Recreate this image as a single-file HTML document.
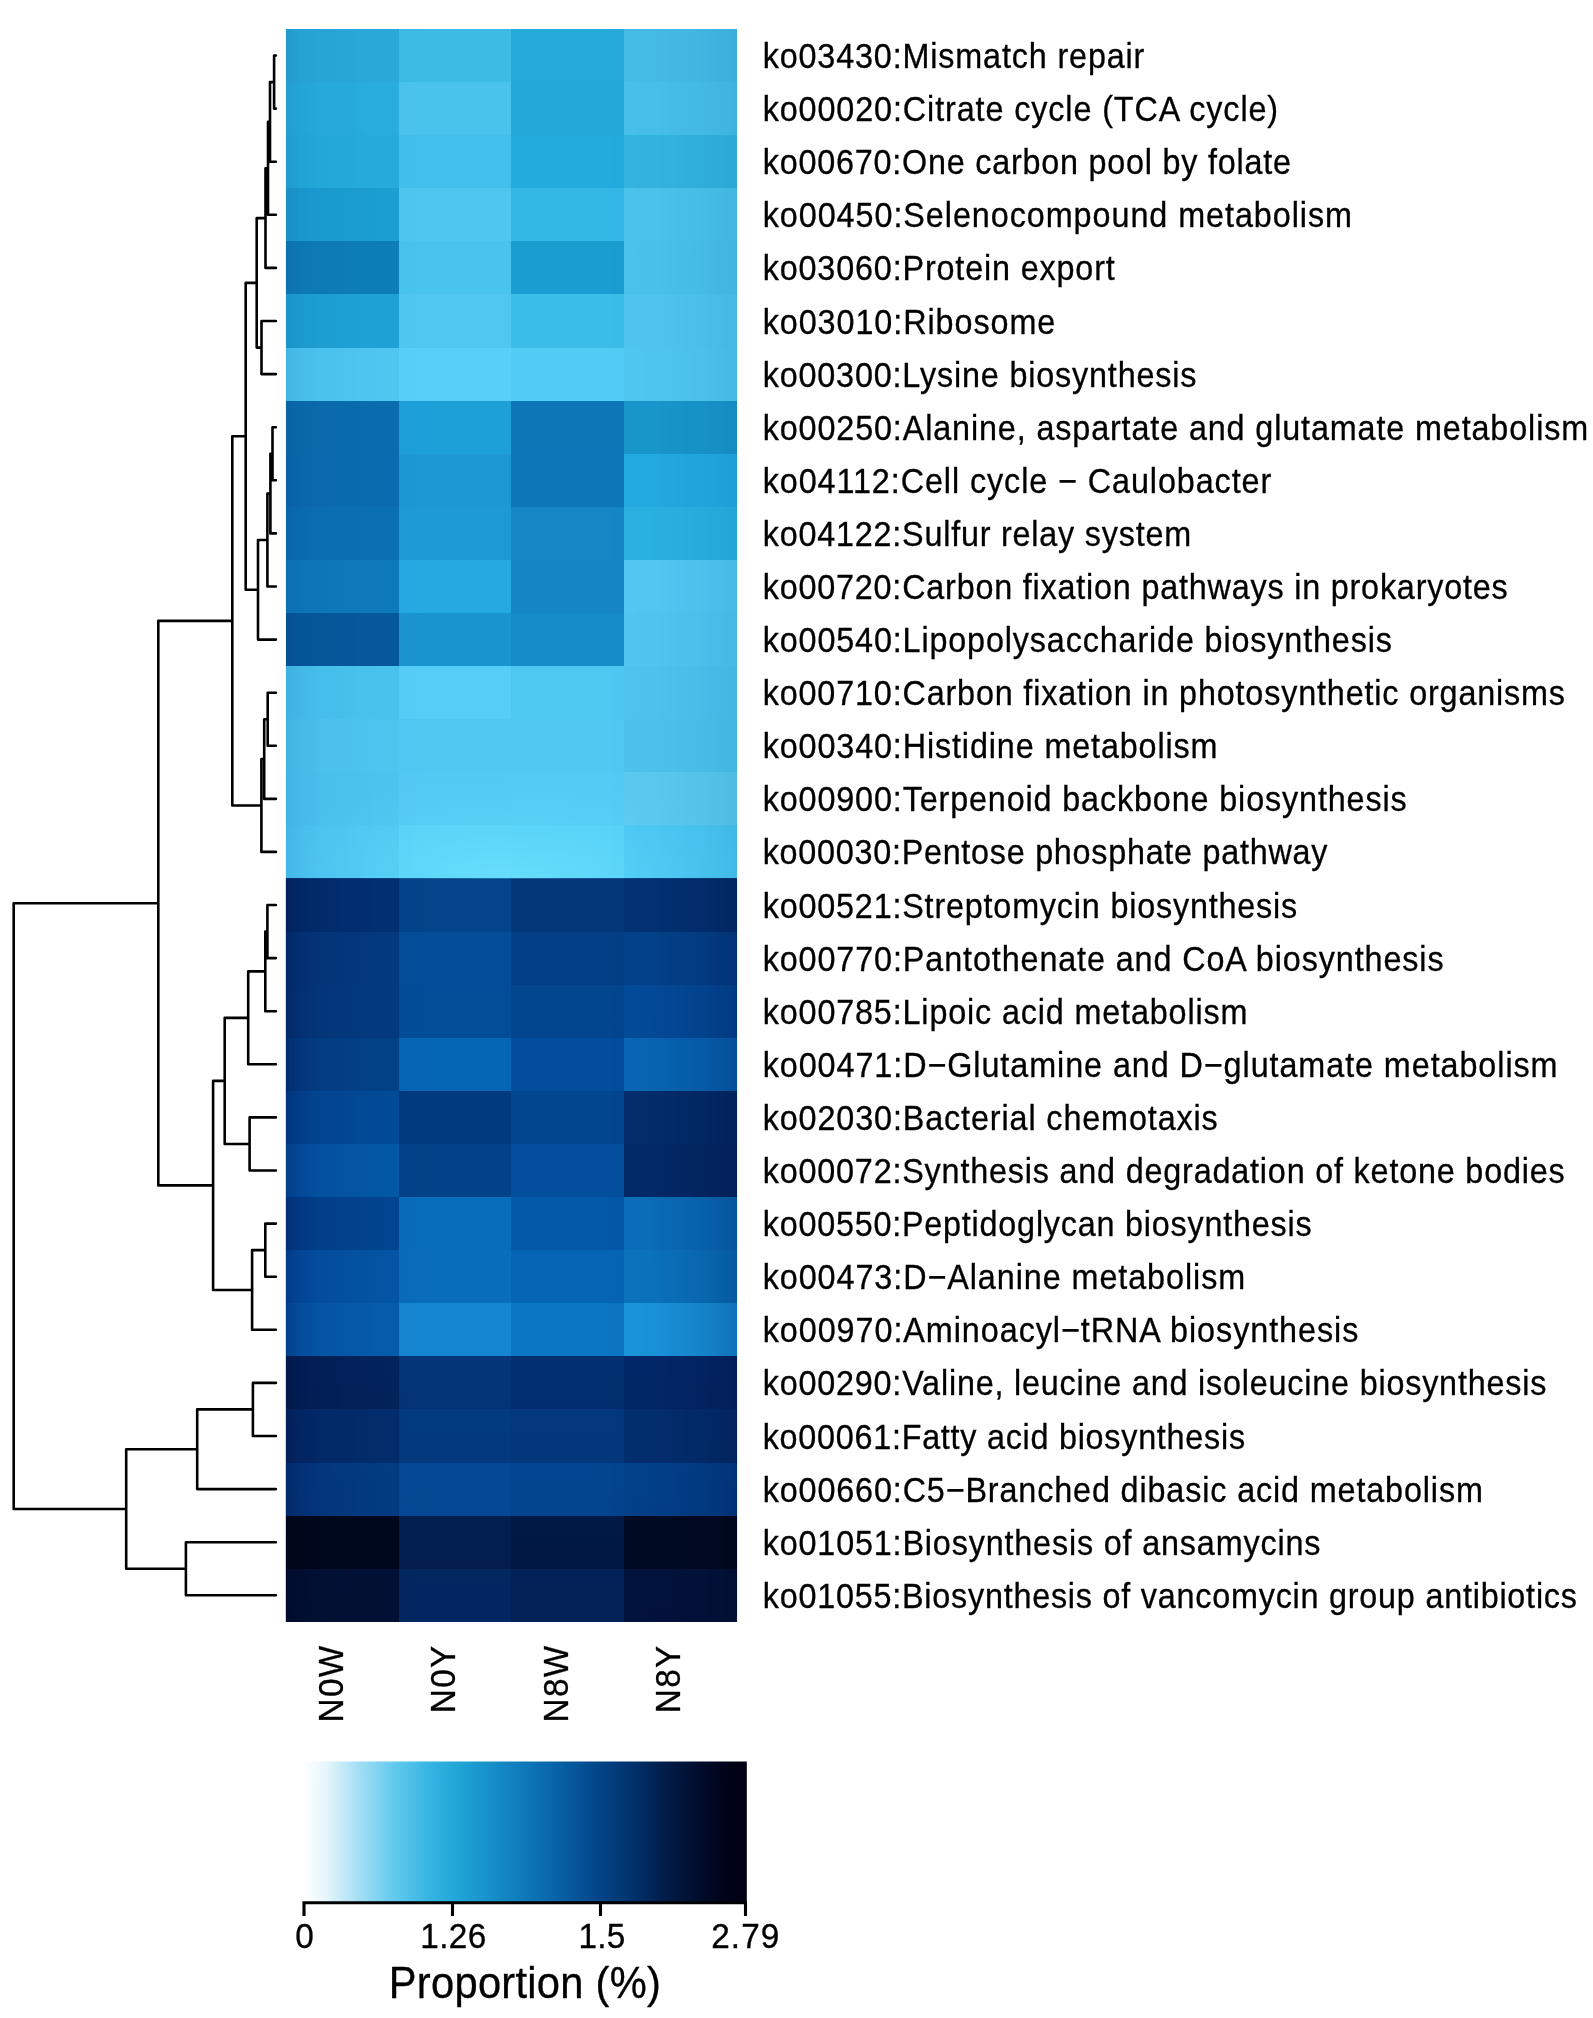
<!DOCTYPE html>
<html><head><meta charset="utf-8"><title>Heatmap</title>
<style>
html,body{margin:0;padding:0;background:#fff}
svg{display:block}
text{font-family:"Liberation Sans",Arial,sans-serif;fill:#000;stroke:#000;stroke-width:0.3px}
.rl{font-size:33.33px;letter-spacing:0.3px}
.cl{font-size:33.33px;letter-spacing:1.25px}
.tl{font-size:33.33px;letter-spacing:0.4px}
.ti{font-size:41.67px;letter-spacing:0.27px}
</style></head><body>
<svg width="1593" height="2018" viewBox="0 0 1593 2018">
<defs>
<linearGradient id="lg" x1="0" x2="1" y1="0" y2="0">
<stop offset="0" stop-color="#FFFFFF"/><stop offset="0.05" stop-color="#E4F5FC"/><stop offset="0.12" stop-color="#A6DFF5"/><stop offset="0.2" stop-color="#64CAEE"/><stop offset="0.28" stop-color="#37B6E3"/><stop offset="0.34" stop-color="#20A7D9"/><stop offset="0.42" stop-color="#1690C9"/><stop offset="0.5" stop-color="#0E78B8"/><stop offset="0.58" stop-color="#075FA4"/><stop offset="0.65" stop-color="#03498D"/><stop offset="0.72" stop-color="#023774"/><stop offset="0.8" stop-color="#012150"/><stop offset="0.88" stop-color="#000F30"/><stop offset="0.94" stop-color="#00051C"/><stop offset="1" stop-color="#000010"/>
</linearGradient>
<linearGradient id="hv" x1="0" x2="1" y1="0" y2="0"><stop offset="0" stop-color="#7EACD0"/><stop offset="0.03" stop-color="#A8CCE4"/><stop offset="0.08" stop-color="#D0E4F2"/><stop offset="0.2" stop-color="#F0F7FB"/><stop offset="0.33" stop-color="#FFFFFF"/><stop offset="0.7" stop-color="#FFFFFF"/><stop offset="0.82" stop-color="#E8F2F9"/><stop offset="0.92" stop-color="#BCDEEA"/><stop offset="1" stop-color="#8AC2D6"/></linearGradient>
<radialGradient id="glow" gradientUnits="userSpaceOnUse" cx="511" cy="885" r="260" gradientTransform="translate(511 885) scale(1 0.42) translate(-511 -885)"><stop offset="0" stop-color="#7AF0FF" stop-opacity="0.5"/><stop offset="0.5" stop-color="#70E8FF" stop-opacity="0.22"/><stop offset="1" stop-color="#66E0FF" stop-opacity="0"/></radialGradient>
<linearGradient id="bv" x1="0" x2="0" y1="0" y2="1"><stop offset="0" stop-color="#FFFFFF"/><stop offset="1" stop-color="#DCE4F0"/></linearGradient>
</defs>
<rect width="1593" height="2018" fill="#fff"/>
<g shape-rendering="crispEdges">
<rect x="285.60" y="29.00" width="113.20" height="53.39" fill="#29ABD9"/><rect x="398.50" y="29.00" width="113.20" height="53.39" fill="#3DBBE4"/><rect x="511.40" y="29.00" width="113.20" height="53.39" fill="#24AAD9"/><rect x="624.30" y="29.00" width="112.90" height="53.39" fill="#45BDE6"/>
<rect x="285.60" y="82.09" width="113.20" height="53.39" fill="#28AEDD"/><rect x="398.50" y="82.09" width="113.20" height="53.39" fill="#4AC3EC"/><rect x="511.40" y="82.09" width="113.20" height="53.39" fill="#22A9D9"/><rect x="624.30" y="82.09" width="112.90" height="53.39" fill="#48C1EA"/>
<rect x="285.60" y="135.19" width="113.20" height="53.39" fill="#25ACDC"/><rect x="398.50" y="135.19" width="113.20" height="53.39" fill="#42BFEA"/><rect x="511.40" y="135.19" width="113.20" height="53.39" fill="#23ABDD"/><rect x="624.30" y="135.19" width="112.90" height="53.39" fill="#33B5E0"/>
<rect x="285.60" y="188.28" width="113.20" height="53.39" fill="#1B9FD3"/><rect x="398.50" y="188.28" width="113.20" height="53.39" fill="#4EC6EF"/><rect x="511.40" y="188.28" width="113.20" height="53.39" fill="#33B8E6"/><rect x="624.30" y="188.28" width="112.90" height="53.39" fill="#4BC4EC"/>
<rect x="285.60" y="241.37" width="113.20" height="53.39" fill="#0D7EB9"/><rect x="398.50" y="241.37" width="113.20" height="53.39" fill="#48C4EE"/><rect x="511.40" y="241.37" width="113.20" height="53.39" fill="#1A9DD1"/><rect x="624.30" y="241.37" width="112.90" height="53.39" fill="#4AC3EB"/>
<rect x="285.60" y="294.47" width="113.20" height="53.39" fill="#1EA3D6"/><rect x="398.50" y="294.47" width="113.20" height="53.39" fill="#4FC7F0"/><rect x="511.40" y="294.47" width="113.20" height="53.39" fill="#3ABDE9"/><rect x="624.30" y="294.47" width="112.90" height="53.39" fill="#50C7EF"/>
<rect x="285.60" y="347.56" width="113.20" height="53.39" fill="#4FC8F1"/><rect x="398.50" y="347.56" width="113.20" height="53.39" fill="#58CFF8"/><rect x="511.40" y="347.56" width="113.20" height="53.39" fill="#52CCF6"/><rect x="624.30" y="347.56" width="112.90" height="53.39" fill="#50C8F0"/>
<rect x="285.60" y="400.65" width="113.20" height="53.39" fill="#0A6DAE"/><rect x="398.50" y="400.65" width="113.20" height="53.39" fill="#1D9FD8"/><rect x="511.40" y="400.65" width="113.20" height="53.39" fill="#0C76B7"/><rect x="624.30" y="400.65" width="112.90" height="53.39" fill="#1897CB"/>
<rect x="285.60" y="453.75" width="113.20" height="53.39" fill="#0A6CB0"/><rect x="398.50" y="453.75" width="113.20" height="53.39" fill="#1D98D4"/><rect x="511.40" y="453.75" width="113.20" height="53.39" fill="#0D76B8"/><rect x="624.30" y="453.75" width="112.90" height="53.39" fill="#22ABE0"/>
<rect x="285.60" y="506.84" width="113.20" height="53.39" fill="#0B70B4"/><rect x="398.50" y="506.84" width="113.20" height="53.39" fill="#1D9AD6"/><rect x="511.40" y="506.84" width="113.20" height="53.39" fill="#1587C5"/><rect x="624.30" y="506.84" width="112.90" height="53.39" fill="#29B2E2"/>
<rect x="285.60" y="559.93" width="113.20" height="53.39" fill="#0D7ABC"/><rect x="398.50" y="559.93" width="113.20" height="53.39" fill="#24A9E1"/><rect x="511.40" y="559.93" width="113.20" height="53.39" fill="#1586C5"/><rect x="624.30" y="559.93" width="112.90" height="53.39" fill="#52C9F2"/>
<rect x="285.60" y="613.03" width="113.20" height="53.39" fill="#04599C"/><rect x="398.50" y="613.03" width="113.20" height="53.39" fill="#1A94CF"/><rect x="511.40" y="613.03" width="113.20" height="53.39" fill="#158CC8"/><rect x="624.30" y="613.03" width="112.90" height="53.39" fill="#50C7F0"/>
<rect x="285.60" y="666.12" width="113.20" height="53.39" fill="#4AC4EE"/><rect x="398.50" y="666.12" width="113.20" height="53.39" fill="#55CDF6"/><rect x="511.40" y="666.12" width="113.20" height="53.39" fill="#4DC8F1"/><rect x="624.30" y="666.12" width="112.90" height="53.39" fill="#4EC5EE"/>
<rect x="285.60" y="719.21" width="113.20" height="53.39" fill="#4EC6EF"/><rect x="398.50" y="719.21" width="113.20" height="53.39" fill="#50C8F2"/><rect x="511.40" y="719.21" width="113.20" height="53.39" fill="#50C8F2"/><rect x="624.30" y="719.21" width="112.90" height="53.39" fill="#4DC4EC"/>
<rect x="285.60" y="772.31" width="113.20" height="53.39" fill="#4DC5EF"/><rect x="398.50" y="772.31" width="113.20" height="53.39" fill="#52C9F3"/><rect x="511.40" y="772.31" width="113.20" height="53.39" fill="#52CAF4"/><rect x="624.30" y="772.31" width="112.90" height="53.39" fill="#5BCAF0"/>
<rect x="285.60" y="825.40" width="113.20" height="53.39" fill="#4FC8F2"/><rect x="398.50" y="825.40" width="113.20" height="53.39" fill="#58D0F8"/><rect x="511.40" y="825.40" width="113.20" height="53.39" fill="#55CFF7"/><rect x="624.30" y="825.40" width="112.90" height="53.39" fill="#4BC7F2"/>
<rect x="285.60" y="878.49" width="113.20" height="53.39" fill="#023072"/><rect x="398.50" y="878.49" width="113.20" height="53.39" fill="#03448A"/><rect x="511.40" y="878.49" width="113.20" height="53.39" fill="#023879"/><rect x="624.30" y="878.49" width="112.90" height="53.39" fill="#023274"/>
<rect x="285.60" y="931.59" width="113.20" height="53.39" fill="#033A7E"/><rect x="398.50" y="931.59" width="113.20" height="53.39" fill="#024D99"/><rect x="511.40" y="931.59" width="113.20" height="53.39" fill="#023F86"/><rect x="624.30" y="931.59" width="112.90" height="53.39" fill="#02438C"/>
<rect x="285.60" y="984.68" width="113.20" height="53.39" fill="#033B80"/><rect x="398.50" y="984.68" width="113.20" height="53.39" fill="#024C98"/><rect x="511.40" y="984.68" width="113.20" height="53.39" fill="#024690"/><rect x="624.30" y="984.68" width="112.90" height="53.39" fill="#034C9A"/>
<rect x="285.60" y="1037.77" width="113.20" height="53.39" fill="#034389"/><rect x="398.50" y="1037.77" width="113.20" height="53.39" fill="#0565B5"/><rect x="511.40" y="1037.77" width="113.20" height="53.39" fill="#024E9C"/><rect x="624.30" y="1037.77" width="112.90" height="53.39" fill="#0768B5"/>
<rect x="285.60" y="1090.87" width="113.20" height="53.39" fill="#024C99"/><rect x="398.50" y="1090.87" width="113.20" height="53.39" fill="#023A7E"/><rect x="511.40" y="1090.87" width="113.20" height="53.39" fill="#024690"/><rect x="624.30" y="1090.87" width="112.90" height="53.39" fill="#022D6C"/>
<rect x="285.60" y="1143.96" width="113.20" height="53.39" fill="#035AA8"/><rect x="398.50" y="1143.96" width="113.20" height="53.39" fill="#024288"/><rect x="511.40" y="1143.96" width="113.20" height="53.39" fill="#034F9E"/><rect x="624.30" y="1143.96" width="112.90" height="53.39" fill="#022A68"/>
<rect x="285.60" y="1197.05" width="113.20" height="53.39" fill="#024591"/><rect x="398.50" y="1197.05" width="113.20" height="53.39" fill="#076DBA"/><rect x="511.40" y="1197.05" width="113.20" height="53.39" fill="#0358A8"/><rect x="624.30" y="1197.05" width="112.90" height="53.39" fill="#0A70BB"/>
<rect x="285.60" y="1250.15" width="113.20" height="53.39" fill="#0356A6"/><rect x="398.50" y="1250.15" width="113.20" height="53.39" fill="#086DBB"/><rect x="511.40" y="1250.15" width="113.20" height="53.39" fill="#0565B4"/><rect x="624.30" y="1250.15" width="112.90" height="53.39" fill="#0B76BE"/>
<rect x="285.60" y="1303.24" width="113.20" height="53.39" fill="#045EAD"/><rect x="398.50" y="1303.24" width="113.20" height="53.39" fill="#1587D2"/><rect x="511.40" y="1303.24" width="113.20" height="53.39" fill="#0B76C4"/><rect x="624.30" y="1303.24" width="112.90" height="53.39" fill="#1B98DC"/>
<rect x="285.60" y="1356.33" width="113.20" height="53.39" fill="#02235C"/><rect x="398.50" y="1356.33" width="113.20" height="53.39" fill="#033578"/><rect x="511.40" y="1356.33" width="113.20" height="53.39" fill="#022F70"/><rect x="624.30" y="1356.33" width="112.90" height="53.39" fill="#02286A"/>
<rect x="285.60" y="1409.43" width="113.20" height="53.39" fill="#022E6E"/><rect x="398.50" y="1409.43" width="113.20" height="53.39" fill="#033C82"/><rect x="511.40" y="1409.43" width="113.20" height="53.39" fill="#03397E"/><rect x="624.30" y="1409.43" width="112.90" height="53.39" fill="#023072"/>
<rect x="285.60" y="1462.52" width="113.20" height="53.39" fill="#033F86"/><rect x="398.50" y="1462.52" width="113.20" height="53.39" fill="#044C98"/><rect x="511.40" y="1462.52" width="113.20" height="53.39" fill="#034894"/><rect x="624.30" y="1462.52" width="112.90" height="53.39" fill="#024590"/>
<rect x="285.60" y="1515.61" width="113.20" height="53.39" fill="#00081F"/><rect x="398.50" y="1515.61" width="113.20" height="53.39" fill="#021F52"/><rect x="511.40" y="1515.61" width="113.20" height="53.39" fill="#011A48"/><rect x="624.30" y="1515.61" width="112.90" height="53.39" fill="#000A24"/>
<rect x="285.60" y="1568.71" width="113.20" height="53.09" fill="#011238"/><rect x="398.50" y="1568.71" width="113.20" height="53.09" fill="#022A66"/><rect x="511.40" y="1568.71" width="113.20" height="53.09" fill="#02245C"/><rect x="624.30" y="1568.71" width="112.90" height="53.09" fill="#011440"/>
</g>
<rect x="285.60" y="666.12" width="451.60" height="212.37" fill="url(#glow)"/>
<rect x="285.60" y="29.00" width="451.60" height="849.49" fill="url(#hv)" opacity="0.3" style="mix-blend-mode:multiply"/>
<rect x="285.60" y="878.49" width="451.60" height="743.31" fill="url(#hv)" style="mix-blend-mode:multiply"/>
<rect x="285.60" y="1356.33" width="451.60" height="265.47" fill="url(#bv)" style="mix-blend-mode:multiply"/>
<path d="M275.9 55.5H274.1V108.6H275.9M274.1 82.1H270.0V161.7H275.9M270.0 121.9H268.0V214.8H275.9M268.0 168.4H265.5V267.9H275.9M275.9 321.0H261.5V374.1H275.9M265.5 218.1H256.7V347.6H261.5M275.9 427.2H272.5V480.3H275.9M272.5 453.7H270.4V533.4H275.9M270.4 493.6H267.4V586.5H275.9M267.4 540.0H258.0V639.6H275.9M256.7 282.9H245.7V589.8H258.0M275.9 692.7H267.7V745.8H275.9M267.7 719.2H264.2V798.9H275.9M264.2 759.0H261.4V851.9H275.9M245.7 436.3H232.3V805.5H261.4M275.9 905.0H267.4V958.1H275.9M267.4 931.6H265.3V1011.2H275.9M265.3 971.4H248.2V1064.3H275.9M275.9 1117.4H249.6V1170.5H275.9M248.2 1017.9H224.7V1144.0H249.6M275.9 1223.6H265.3V1276.7H275.9M265.3 1250.1H252.1V1329.8H275.9M224.7 1080.9H213.1V1290.0H252.1M232.3 620.9H158.3V1185.4H213.1M275.9 1382.9H252.9V1436.0H275.9M252.9 1409.4H197.2V1489.1H275.9M275.9 1542.2H185.9V1595.3H275.9M197.2 1449.2H126.2V1568.7H185.9M158.3 903.2H13.7V1509.0H126.2" fill="none" stroke="#000" stroke-width="2.6" stroke-linejoin="round" stroke-linecap="round"/>
<text class="rl" style="letter-spacing:0.882px" transform="translate(762.7 68.0) scale(0.97 1.04)">ko03430:Mismatch repair</text>
<text class="rl" style="letter-spacing:0.925px" transform="translate(762.7 121.1) scale(0.97 1.04)">ko00020:Citrate cycle (TCA cycle)</text>
<text class="rl" style="letter-spacing:0.813px" transform="translate(762.7 174.2) scale(0.97 1.04)">ko00670:One carbon pool by folate</text>
<text class="rl" style="letter-spacing:0.988px" transform="translate(762.7 227.3) scale(0.97 1.04)">ko00450:Selenocompound metabolism</text>
<text class="rl" style="letter-spacing:0.881px" transform="translate(762.7 280.4) scale(0.97 1.04)">ko03060:Protein export</text>
<text class="rl" style="letter-spacing:0.967px" transform="translate(762.7 333.5) scale(0.97 1.04)">ko03010:Ribosome</text>
<text class="rl" style="letter-spacing:0.862px" transform="translate(762.7 386.6) scale(0.97 1.04)">ko00300:Lysine biosynthesis</text>
<text class="rl" style="letter-spacing:0.908px" transform="translate(762.7 439.7) scale(0.97 1.04)">ko00250:Alanine, aspartate and glutamate metabolism</text>
<text class="rl" style="letter-spacing:0.952px" transform="translate(762.7 492.8) scale(0.97 1.04)">ko04112:Cell cycle − Caulobacter</text>
<text class="rl" style="letter-spacing:0.823px" transform="translate(762.7 545.9) scale(0.97 1.04)">ko04122:Sulfur relay system</text>
<text class="rl" style="letter-spacing:0.835px" transform="translate(762.7 599.0) scale(0.97 1.04)">ko00720:Carbon fixation pathways in prokaryotes</text>
<text class="rl" style="letter-spacing:0.889px" transform="translate(762.7 652.1) scale(0.97 1.04)">ko00540:Lipopolysaccharide biosynthesis</text>
<text class="rl" style="letter-spacing:0.876px" transform="translate(762.7 705.2) scale(0.97 1.04)">ko00710:Carbon fixation in photosynthetic organisms</text>
<text class="rl" style="letter-spacing:0.907px" transform="translate(762.7 758.3) scale(0.97 1.04)">ko00340:Histidine metabolism</text>
<text class="rl" style="letter-spacing:0.900px" transform="translate(762.7 811.4) scale(0.97 1.04)">ko00900:Terpenoid backbone biosynthesis</text>
<text class="rl" style="letter-spacing:0.769px" transform="translate(762.7 864.4) scale(0.97 1.04)">ko00030:Pentose phosphate pathway</text>
<text class="rl" style="letter-spacing:0.844px" transform="translate(762.7 917.5) scale(0.97 1.04)">ko00521:Streptomycin biosynthesis</text>
<text class="rl" style="letter-spacing:0.925px" transform="translate(762.7 970.6) scale(0.97 1.04)">ko00770:Pantothenate and CoA biosynthesis</text>
<text class="rl" style="letter-spacing:0.886px" transform="translate(762.7 1023.7) scale(0.97 1.04)">ko00785:Lipoic acid metabolism</text>
<text class="rl" style="letter-spacing:0.967px" transform="translate(762.7 1076.8) scale(0.97 1.04)">ko00471:D−Glutamine and D−glutamate metabolism</text>
<text class="rl" style="letter-spacing:0.915px" transform="translate(762.7 1129.9) scale(0.97 1.04)">ko02030:Bacterial chemotaxis</text>
<text class="rl" style="letter-spacing:0.847px" transform="translate(762.7 1183.0) scale(0.97 1.04)">ko00072:Synthesis and degradation of ketone bodies</text>
<text class="rl" style="letter-spacing:0.815px" transform="translate(762.7 1236.1) scale(0.97 1.04)">ko00550:Peptidoglycan biosynthesis</text>
<text class="rl" style="letter-spacing:0.967px" transform="translate(762.7 1289.2) scale(0.97 1.04)">ko00473:D−Alanine metabolism</text>
<text class="rl" style="letter-spacing:0.988px" transform="translate(762.7 1342.3) scale(0.97 1.04)">ko00970:Aminoacyl−tRNA biosynthesis</text>
<text class="rl" style="letter-spacing:0.836px" transform="translate(762.7 1395.4) scale(0.97 1.04)">ko00290:Valine, leucine and isoleucine biosynthesis</text>
<text class="rl" style="letter-spacing:0.773px" transform="translate(762.7 1448.5) scale(0.97 1.04)">ko00061:Fatty acid biosynthesis</text>
<text class="rl" style="letter-spacing:0.900px" transform="translate(762.7 1501.6) scale(0.97 1.04)">ko00660:C5−Branched dibasic acid metabolism</text>
<text class="rl" style="letter-spacing:0.870px" transform="translate(762.7 1554.7) scale(0.97 1.04)">ko01051:Biosynthesis of ansamycins</text>
<text class="rl" style="letter-spacing:0.810px" transform="translate(762.7 1607.8) scale(0.97 1.04)">ko01055:Biosynthesis of vancomycin group antibiotics</text>
<text class="cl" text-anchor="end" transform="translate(342.9 1644.6) rotate(-90) scale(1 1.04)">N0W</text>
<text class="cl" text-anchor="end" transform="translate(455.3 1644.6) rotate(-90) scale(1 1.04)">N0Y</text>
<text class="cl" text-anchor="end" transform="translate(568.1 1644.6) rotate(-90) scale(1 1.04)">N8W</text>
<text class="cl" text-anchor="end" transform="translate(679.9 1644.6) rotate(-90) scale(1 1.04)">N8Y</text>
<rect x="304.5" y="1761.5" width="442.3" height="141" fill="url(#lg)"/>
<path d="M304 1916V1902.8H745.5V1916M452.5 1902.8V1916M600.5 1902.8V1916" fill="none" stroke="#000" stroke-width="3.1"/>
<text class="tl" text-anchor="middle" style="letter-spacing:0.4px" transform="translate(304.8 1947.7) scale(1 1.04)">0</text>
<text class="tl" text-anchor="middle" style="letter-spacing:0.45px" transform="translate(453.5 1947.7) scale(1 1.04)">1.26</text>
<text class="tl" text-anchor="middle" style="letter-spacing:0.3px" transform="translate(602.0 1947.7) scale(1 1.04)">1.5</text>
<text class="tl" text-anchor="middle" style="letter-spacing:1.1px" transform="translate(745.8 1947.7) scale(1 1.04)">2.79</text>
<text class="ti" text-anchor="middle" transform="translate(525.0 1998.2) scale(1 1.05)">Proportion (%)</text>
</svg>
</body></html>
